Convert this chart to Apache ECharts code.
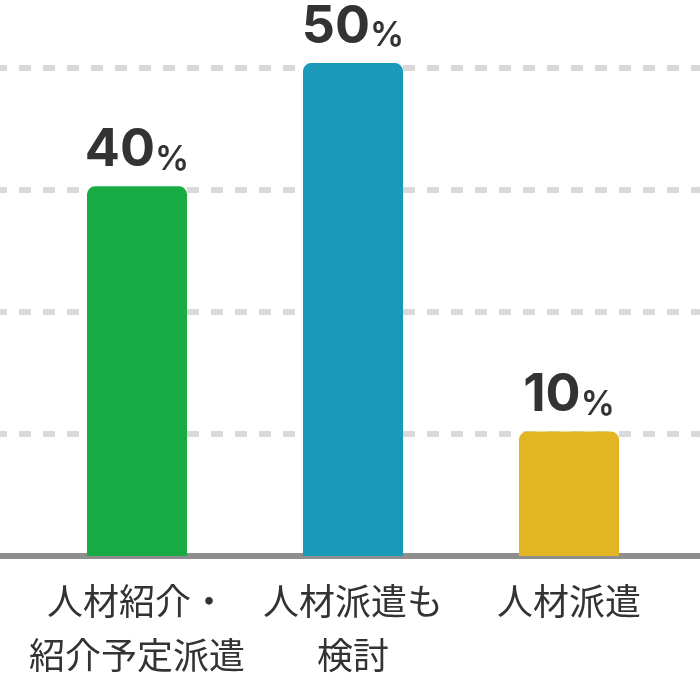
<!DOCTYPE html>
<html>
<head>
<meta charset="utf-8">
<script src="https://cdn.jsdelivr.net/npm/echarts@6/dist/echarts.min.js"></script>
<style>
html,body{margin:0;padding:0;background:#fff;}
#c{width:700px;height:700px;}
</style>
</head>
<body>
<div id="c"></div>
<script>
// Data
const categories = ['人材紹介・\n紹介予定派遣', '人材派遣も\n検討', '人材派遣'];
const percentValues = [40, 50, 10];          // label values (%)
const barLevels = [3.03, 4.04, 1.02];        // drawn bar heights in gridline units
const barColors = ['#18ab44', '#1a99b9', '#e2b623'];
const gridMax = 4;

const chart = echarts.init(document.getElementById('c'), null, {renderer: 'canvas'});
const gridTop = 68, gridBottom = 700 - 556;

chart.setOption({
  animation: false,
  backgroundColor: '#ffffff',
  grid: [
    {left: 0, right: 0, top: gridTop, bottom: gridBottom},
    {left: 29, right: 23, top: gridTop, bottom: gridBottom}
  ],
  xAxis: [
    {
      gridIndex: 0, type: 'category', data: categories,
      axisLine: {show: true, lineStyle: {color: '#8e8e8e', width: 6}},
      axisTick: {show: false}, axisLabel: {show: false}, splitLine: {show: false}
    },
    {
      gridIndex: 1, type: 'category', data: categories,
      axisLine: {show: false}, axisTick: {show: false}, splitLine: {show: false},
      axisLabel: {
        show: true, interval: 0, margin: 18,
        color: '#333333', fontSize: 36, lineHeight: 54,
        fontFamily: '"Noto Sans CJK JP", sans-serif', align: 'center'
      }
    }
  ],
  yAxis: [
    {
      gridIndex: 0, type: 'value', min: 0, max: gridMax, interval: 1,
      axisLine: {show: false}, axisTick: {show: false}, axisLabel: {show: false},
      splitLine: {show: true, lineStyle: {color: '#d9d9d9', width: 6, type: [12, 12], dashOffset: 5}}
    },
    {
      gridIndex: 1, type: 'value', min: 0, max: gridMax, interval: 1,
      axisLine: {show: false}, axisTick: {show: false}, axisLabel: {show: false},
      splitLine: {show: false}
    }
  ],
  series: [{
    type: 'bar',
    xAxisIndex: 1, yAxisIndex: 1,
    barWidth: 100,
    clip: false,
    z: 1,
    data: barLevels.map((v, i) => ({
      value: v,
      itemStyle: {color: barColors[i], borderRadius: [8, 8, 0, 0]}
    })),
    label: {
      show: true, position: 'top', distance: 10,
      formatter: (p) => '{n|' + percentValues[p.dataIndex] + '}{p|%}',
      rich: {
        n: {fontFamily: 'Inter, Lato, sans-serif', fontWeight: 'bold', fontSize: 52, color: '#333333', verticalAlign: 'bottom', lineHeight: 52},
        p: {fontFamily: 'Inter, Lato, sans-serif', fontWeight: 600, fontSize: 34, color: '#333333', verticalAlign: 'bottom', lineHeight: 44, padding: [0, 0, 0, 0]}
      }
    }
  }]
});
</script>
</body>
</html>
